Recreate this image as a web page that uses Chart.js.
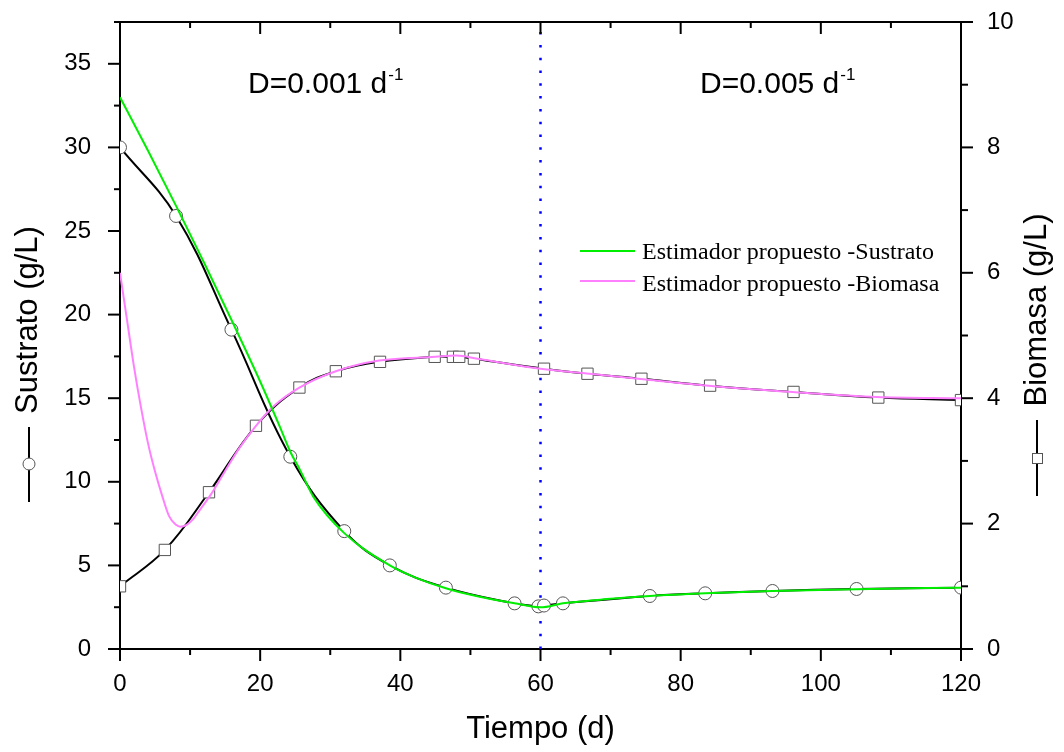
<!DOCTYPE html>
<html>
<head>
<meta charset="utf-8">
<script src="https://cdn.jsdelivr.net/npm/chart.js@4/dist/chart.umd.min.js"></script>
<style>
html,body{margin:0;padding:0;background:#fff;}
canvas{display:block;}
</style>
</head>
<body>
<canvas id="c" width="1064" height="752"></canvas>
<script>
// Experimental substrate (circles, left axis)
const substrateT   = [0, 8, 15.9, 24.3, 32, 38.5, 46.5, 56.3, 59.7, 60.5, 63.2, 75.6, 83.5, 93.1, 105.1, 120];
const substrateVal = [30, 25.9, 19.1, 11.5, 7.05, 5.0, 3.67, 2.73, 2.55, 2.6, 2.73, 3.17, 3.33, 3.47, 3.59, 3.67];
// Experimental biomass (squares, right axis)
const biomassT   = [0, 6.4, 12.7, 19.4, 25.6, 30.8, 37.1, 44.9, 47.5, 48.4, 50.5, 60.5, 66.7, 74.4, 84.2, 96.1, 108.2, 120];
const biomassVal = [1.0, 1.58, 2.5, 3.56, 4.17, 4.43, 4.58, 4.66, 4.66, 4.66, 4.63, 4.47, 4.39, 4.31, 4.2, 4.1, 4.01, 3.97];
// Estimator - substrate (green)
const estSubT   = [0, 4, 8, 12, 16, 20, 22.8, 24.3, 25.7, 27.6, 32, 38.5, 42, 46.5, 51, 56.3, 60, 63.2, 70, 75.6, 83.5, 93.1, 105, 120];
const estSubVal = [33.0, 29.8, 26.5, 23.1, 19.6, 16.0, 13.3, 11.8, 10.7, 9.1, 6.93, 5.0, 4.3, 3.63, 3.15, 2.73, 2.49, 2.73, 3.0, 3.17, 3.33, 3.47, 3.58, 3.67];
// Estimator - biomass (pink)
const estBioT   = [0, 1, 2, 3, 4, 5, 6, 7, 8, 8.6, 9.5, 10.5, 11.4, 13, 15, 17, 19.4, 22, 25.6, 30.8, 37, 45, 48, 51, 60, 67, 75, 84, 96, 108, 120];
const estBioVal = [6.0, 5.25, 4.5, 3.85, 3.28, 2.83, 2.45, 2.12, 1.98, 1.95, 1.98, 2.08, 2.22, 2.47, 2.84, 3.2, 3.56, 3.88, 4.17, 4.43, 4.6, 4.66, 4.68, 4.63, 4.47, 4.39, 4.3, 4.2, 4.1, 4.02, 4.0];
// Phase change marker
const phaseChangeT = 60;
// Axes
const xMin = 0, xMax = 120, xStep = 20, xMinor = 10;
const yMin = 0, yMax = 37.5, yStep = 5, yMinor = 2.5;
const y1Min = 0, y1Max = 10, y1Step = 2, y1Minor = 1;
// Texts
const xTitle = 'Tiempo (d)';
const yTitle = 'Sustrato (g/L)';
const y1Title = 'Biomasa (g/L)';
const phaseLabels = [{t: 'D=0.001 d', sup: '-1'}, {t: 'D=0.005 d', sup: '-1'}];
const legendLabels = ['Estimador propuesto -Sustrato', 'Estimador propuesto -Biomasa'];

const SANS = "'Liberation Sans', Arial, sans-serif";
const SERIF = "'Liberation Serif', 'Times New Roman', serif";
const GREEN = '#00ee00';
const PINK = '#ff80ff';
const MARK = '#555555';

const pts = (xs, ys) => xs.map((x, i) => ({x: x, y: ys[i]}));

const decor = {
  id: 'decor',
  afterDraw(chart) {
    const ctx = chart.ctx, ca = chart.chartArea;
    const sx = chart.scales.x, sy = chart.scales.y, sy1 = chart.scales.y1;
    ctx.save();
    ctx.strokeStyle = '#000';
    ctx.lineWidth = 2;
    const seg = (x1, y1, x2, y2) => { ctx.beginPath(); ctx.moveTo(x1, y1); ctx.lineTo(x2, y2); ctx.stroke(); };
    // top frame
    seg(ca.left - 1, ca.top, ca.right + 1, ca.top);
    // left ticks
    for (let v = yMin; v <= yMax + 1e-9; v += yMinor) {
      const y = sy.getPixelForValue(v);
      const major = Math.abs(v / yStep - Math.round(v / yStep)) < 1e-6;
      seg(ca.left - (major ? 12 : 6), y, ca.left, y);
    }
    // right ticks
    for (let v = y1Min; v <= y1Max + 1e-9; v += y1Minor) {
      const y = sy1.getPixelForValue(v);
      const major = Math.abs(v / y1Step - Math.round(v / y1Step)) < 1e-6;
      seg(ca.right, y, ca.right + (major ? 12 : 7), y);
    }
    // bottom and top ticks
    for (let v = xMin; v <= xMax + 1e-9; v += xMinor) {
      const x = sx.getPixelForValue(v);
      const major = Math.abs(v / xStep - Math.round(v / xStep)) < 1e-6;
      seg(x, ca.bottom, x, ca.bottom + (major ? 12 : 6));
      seg(x, ca.top, x, ca.top + (major ? 12 : 6));
    }
    // axis titles
    ctx.fillStyle = '#000';
    ctx.font = '31px ' + SANS;
    ctx.textAlign = 'center';
    ctx.textBaseline = 'alphabetic';
    ctx.fillText(xTitle, (ca.left + ca.right) / 2, 738);
    ctx.save();
    ctx.translate(37, 320); ctx.rotate(-Math.PI / 2);
    ctx.fillText(yTitle, 0, 0);
    ctx.restore();
    ctx.save();
    ctx.translate(1046, 310); ctx.rotate(-Math.PI / 2);
    ctx.fillText(y1Title, 0, 0);
    ctx.restore();
    // title symbols
    ctx.lineWidth = 2; ctx.strokeStyle = '#000';
    seg(29, 427, 29, 502);
    ctx.beginPath(); ctx.arc(29, 464, 6, 0, Math.PI * 2);
    ctx.fillStyle = '#fff'; ctx.fill(); ctx.lineWidth = 1; ctx.strokeStyle = MARK; ctx.stroke();
    ctx.lineWidth = 2; ctx.strokeStyle = '#000';
    seg(1037, 420, 1037, 496);
    ctx.fillStyle = '#fff'; ctx.fillRect(1032, 453, 10, 10);
    ctx.lineWidth = 1; ctx.strokeStyle = MARK; ctx.strokeRect(1032.5, 453.5, 10, 10);
    // phase annotations
    ctx.fillStyle = '#000';
    ctx.textAlign = 'left';
    const annX = [248, 700];
    phaseLabels.forEach((p, i) => {
      ctx.font = '30px ' + SANS;
      ctx.fillText(p.t, annX[i], 93);
      const w = ctx.measureText(p.t).width;
      ctx.font = '17px ' + SANS;
      ctx.fillText(p.sup, annX[i] + w + 1, 80);
    });
    // legend
    ctx.lineWidth = 2;
    ctx.strokeStyle = GREEN; seg(580, 251, 635, 251);
    ctx.strokeStyle = PINK; seg(580, 281, 635, 281);
    ctx.font = '24px ' + SERIF;
    ctx.fillStyle = '#000';
    ctx.fillText(legendLabels[0], 642, 259);
    ctx.fillText(legendLabels[1], 642, 291);
    ctx.restore();
  }
};

const fitY = w => s => { s.width = w; s.paddingTop = 0; s.paddingBottom = 0; };

new Chart(document.getElementById('c'), {
  type: 'line',
  data: {
    datasets: [
      {
        label: legendLabels[0], data: pts(estSubT, estSubVal), yAxisID: 'y',
        borderColor: GREEN, borderWidth: 2, pointRadius: 0, cubicInterpolationMode: 'monotone', order: 0
      },
      {
        label: legendLabels[1], data: pts(estBioT, estBioVal), yAxisID: 'y1',
        borderColor: PINK, borderWidth: 2, pointRadius: 0, cubicInterpolationMode: 'monotone', order: 0
      },
      {
        label: 'Sustrato', data: pts(substrateT, substrateVal), yAxisID: 'y',
        borderColor: '#000', borderWidth: 2, tension: 0.4,
        pointStyle: 'circle', pointRadius: 6.5, pointBorderColor: MARK, pointBorderWidth: 1,
        pointBackgroundColor: '#fff', order: 1
      },
      {
        label: 'Biomasa', data: pts(biomassT, biomassVal), yAxisID: 'y1',
        borderColor: '#000', borderWidth: 2, tension: 0.4,
        pointStyle: 'rect', pointRadius: 8, pointBorderColor: MARK, pointBorderWidth: 1,
        pointBackgroundColor: '#fff', order: 1
      },
      {
        label: 'phase', data: [{x: phaseChangeT, y: yMin}, {x: phaseChangeT, y: yMax}], yAxisID: 'y',
        borderColor: '#0000ff', borderWidth: 2.5, borderDash: [2.5, 10.3], pointRadius: 0, tension: 0, order: 2
      }
    ]
  },
  options: {
    responsive: false,
    animation: false,
    devicePixelRatio: 1,
    layout: {padding: {top: 22, left: 0, right: 0, bottom: 0}},
    plugins: {legend: {display: false}, tooltip: {enabled: false}},
    scales: {
      x: {
        type: 'linear', min: xMin, max: xMax, position: 'bottom',
        grid: {display: false},
        border: {display: true, color: '#000', width: 2},
        ticks: {stepSize: xStep, padding: 13, color: '#000', font: {family: SANS, size: 24}, maxRotation: 0, includeBounds: false},
        afterFit: s => { s.height = 103; s.paddingLeft = 0; s.paddingRight = 0; }
      },
      y: {
        type: 'linear', min: yMin, max: yMax, position: 'left',
        grid: {display: false},
        border: {display: true, color: '#000', width: 2},
        ticks: {stepSize: yStep, padding: 21, color: '#000', font: {family: SANS, size: 24}, includeBounds: false},
        afterFit: fitY(120)
      },
      y1: {
        type: 'linear', min: y1Min, max: y1Max, position: 'right',
        grid: {display: false},
        border: {display: true, color: '#000', width: 2},
        ticks: {stepSize: y1Step, padding: 18, color: '#000', font: {family: SANS, size: 24}, includeBounds: false},
        afterFit: fitY(103)
      }
    }
  },
  plugins: [decor]
});
</script>
</body>
</html>
